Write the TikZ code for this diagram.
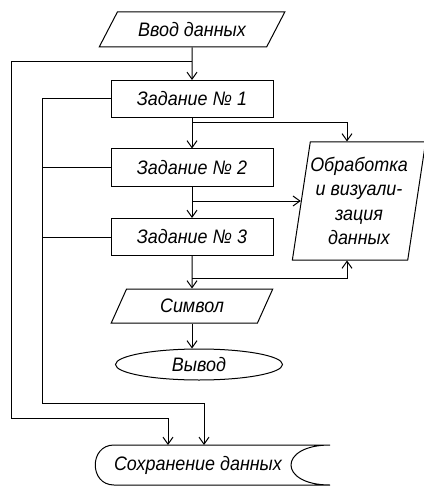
\documentclass[tikz,border=0pt]{standalone}
\usepackage{fontspec}
\setmainfont[FakeStretch=0.92]{Liberation Sans}
\usetikzlibrary{shapes.geometric,arrows.meta}

\tikzset{
  taskBox/.style={draw,rectangle,minimum width=162pt,minimum height=37pt,inner sep=2pt},
  ioBox/.style={draw,trapezium,trapezium stretches=true,inner sep=2pt},
}

\begin{document}
\begin{tikzpicture}[x=1pt,y=-1pt,line width=1pt,>={Straight Barb[length=7pt,width=10pt]},
  font=\fontsize{19.5}{24.5}\selectfont\itshape]
\useasboundingbox (0,0) rectangle (423,486);

% blocks
\node[ioBox,trapezium left angle=53.4,trapezium right angle=126.6,minimum width=186pt,minimum height=35pt] (inputData) at (192,29.5) {Ввод данных};
\node[taskBox] (task1) at (192,99) {Задание № 1};
\node[taskBox] (task2) at (192,167.5) {Задание № 2};
\node[taskBox] (task3) at (192,237) {Задание № 3};
\node[ioBox,trapezium left angle=66,trapezium right angle=114,minimum width=162pt,minimum height=34pt] (symbolIn) at (192,306) {Символ};
\node[draw,ellipse,minimum width=167pt,minimum height=31pt,inner sep=0pt] (outputRes) at (199,364.5) {Вывод};
\node[ioBox,trapezium left angle=78.5,trapezium right angle=101.5,minimum width=128pt,minimum height=118pt,inner sep=0pt,align=center] (processData) at (359,201) {Обработка\\и визуали-\\зация\\данных};
\node (saveData) at (198,465) {Сохранение данных};

% storage outline
\draw (114,445) .. controls (89,445) and (89,485) .. (114,485) -- (330,485)
  .. controls (278,485) and (278,445) .. (330,445) -- cycle;

% main flow
\draw[->] (inputData.south) -- (task1.north);
\draw[->] (task1.south) -- (task2.north);
\draw[->] (task2.south) -- (task3.north);
\draw[->] (task3.south) -- (symbolIn.north);
\draw[->] (symbolIn.south) -- (symbolIn.south |- outputRes.north);

% branches to processing
\coordinate (fork1) at (192,123);
\coordinate (fork2) at (192,201);
\coordinate (fork3) at (192,278);
\coordinate (procTop) at (347,123);
\coordinate (procBot) at (347,278);
\draw[->] (fork1) -- (procTop) -- (procTop |- processData.north);
\draw[->] (fork2) -- (fork2 -| processData.left side);
\draw[->] (fork3) -- (procBot) -- (procBot |- processData.south);

% loops to storage
\coordinate (join0) at (192,62);
\coordinate (outerLoop) at (11,418);
\coordinate (innerLoop) at (42,403);
\coordinate (saveIn1) at (168,445);
\coordinate (saveIn2) at (204,445);
\draw[->] (join0) -| (outerLoop) -| (saveIn1);
\draw[->] (task1.west) -| (innerLoop) -| (saveIn2);
\draw (task2.west) -- (task2.west -| innerLoop);
\draw (task3.west) -- (task3.west -| innerLoop);
\end{tikzpicture}
\end{document}
